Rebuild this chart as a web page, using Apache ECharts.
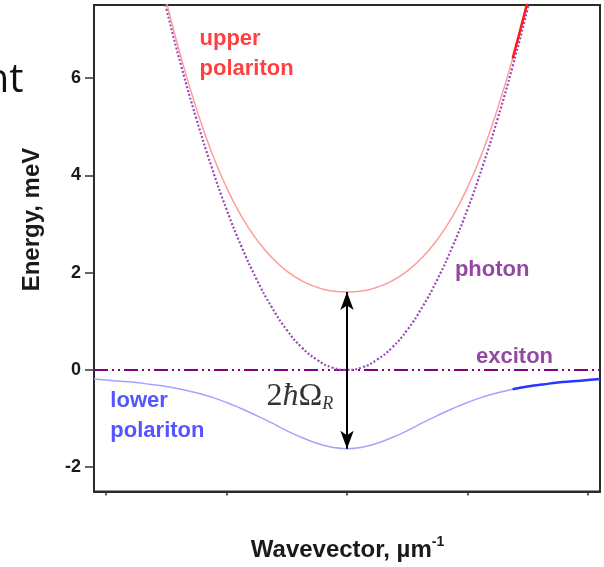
<!DOCTYPE html>
<html>
<head>
<meta charset="utf-8">
<title>Exciton-polariton dispersion</title>
<script src="https://cdn.jsdelivr.net/npm/echarts@6/dist/echarts.min.js"></script>
<style>
  html, body { margin: 0; padding: 0; background: #fff; }
  #chart { width: 604px; height: 567px; }
</style>
</head>
<body>
<div id="chart"></div>
<script>
// In-plane wavevector (µm^-1) and branch energies (meV)
const upperK = [-1.625, -1.5, -1.375, -1.25, -1.125, -1.0, -0.875, -0.75, -0.625, -0.5, -0.375, -0.25, -0.125, 0,
                0.125, 0.25, 0.375, 0.5, 0.625, 0.75, 0.875, 1.0, 1.125, 1.25, 1.375, 1.5, 1.625];
const upperE = [8.85, 7.58, 6.40, 5.37, 4.48, 3.75, 3.15, 2.68, 2.31, 2.03, 1.83, 1.70, 1.62, 1.60,
                1.62, 1.70, 1.83, 2.03, 2.31, 2.68, 3.15, 3.75, 4.48, 5.37, 6.40, 7.58, 8.85];

const photonK = [-1.625, -1.5, -1.375, -1.25, -1.125, -1.0, -0.875, -0.75, -0.625, -0.5, -0.375, -0.25, -0.125, 0,
                 0.125, 0.25, 0.375, 0.5, 0.625, 0.75, 0.875, 1.0, 1.125, 1.25, 1.375, 1.5, 1.625];
const photonE = [8.7, 7.43, 6.24, 5.16, 4.18, 3.30, 2.53, 1.86, 1.29, 0.82, 0.46, 0.21, 0.05, 0,
                 0.05, 0.21, 0.46, 0.82, 1.29, 1.86, 2.53, 3.30, 4.18, 5.16, 6.24, 7.43, 8.7];

const lowerK = [-2.1, -2.0, -1.875, -1.75, -1.625, -1.5, -1.375, -1.25, -1.125, -1.0, -0.875, -0.75, -0.625, -0.5, -0.375, -0.25, -0.125, 0,
                0.125, 0.25, 0.375, 0.5, 0.625, 0.75, 0.875, 1.0, 1.125, 1.25, 1.375, 1.5, 1.625, 1.75, 1.875, 2.0, 2.1];
const lowerE = [-0.19, -0.21, -0.235, -0.26, -0.30, -0.34, -0.40, -0.47, -0.56, -0.67, -0.80, -0.94, -1.09, -1.25, -1.39, -1.51, -1.59, -1.62,
                -1.59, -1.51, -1.39, -1.25, -1.09, -0.94, -0.80, -0.67, -0.56, -0.47, -0.40, -0.34, -0.30, -0.26, -0.235, -0.21, -0.19];

const excitonK = [-2.1, 2.1];
const excitonE = [0, 0];

// Wavevector from which the branches are drawn emphasised
const highlightFromK = 1.375;

const xTicks = [-2, -1, 0, 1, 2];
const yTicks = [-2, 0, 2, 4, 6];

const pairs = (ks, es) => ks.map((k, i) => [k, es[i]]);
const pairsFrom = (ks, es, k0) => pairs(ks, es).filter(p => p[0] >= k0);

const SANS = 'Liberation Sans, Arial, sans-serif';
const SERIF = 'Liberation Serif, Times New Roman, serif';

const chart = echarts.init(document.getElementById('chart'), null, { renderer: 'canvas' });

const textLabel = (k, e, style) => ({
  type: 'scatter',
  silent: true,
  symbolSize: 1,
  itemStyle: { color: 'rgba(0,0,0,0)' },
  data: [[k, e]],
  label: Object.assign({
    show: true,
    position: [0, 0],
    align: 'left',
    verticalAlign: 'top',
    fontFamily: SANS,
    fontWeight: 'bold',
    fontSize: 22,
    lineHeight: 30
  }, style),
  z: 5
});

const upperAtZero = upperE[upperK.indexOf(0)];
const lowerAtZero = lowerE[lowerK.indexOf(0)];

const curve = (name, data, lineStyle, z) => ({
  name, type: 'line', smooth: 0.5, showSymbol: false, symbol: 'none',
  data, lineStyle, z
});

chart.setOption({
  animation: false,
  backgroundColor: '#fff',
  grid: {
    left: 94, right: 4, top: 5, bottom: 75.5,
    show: true,
    borderColor: '#2a2a2a',
    borderWidth: 2,
    backgroundColor: 'transparent'
  },
  xAxis: {
    type: 'value',
    min: -2.1, max: 2.1,
    axisLine: { show: true, onZero: false, lineStyle: { color: '#2a2a2a', width: 2 } },
    axisTick: { show: true, customValues: xTicks, length: 4, lineStyle: { color: '#333', width: 1.5 } },
    axisLabel: { show: false },
    splitLine: { show: false }
  },
  yAxis: {
    type: 'value',
    min: -2.5, max: 7.5,
    axisLine: { show: true, onZero: false, lineStyle: { color: '#2a2a2a', width: 2 } },
    axisTick: { show: true, customValues: yTicks, length: 9, lineStyle: { color: '#333', width: 1.5 } },
    axisLabel: {
      show: true, customValues: yTicks, margin: 13,
      fontFamily: SANS, fontWeight: 'bold', fontSize: 18, color: '#1a1a1a'
    },
    splitLine: { show: false }
  },
  graphic: [
    {
      type: 'text', x: 23.5, y: 81,
      style: { text: 'nt', font: '40px "Open Sans"', fill: '#111', align: 'right', verticalAlign: 'middle' }
    },
    {
      type: 'text', x: 32.6, y: 219.5, rotation: Math.PI / 2,
      style: { text: 'Energy, meV', font: 'bold 24px "Liberation Sans"', fill: '#1a1a1a', align: 'center', verticalAlign: 'middle' }
    },
    {
      type: 'text', x: 347.5, y: 535,
      style: {
        text: '{a|Wavevector, µm}{s|-1}',
        align: 'center', verticalAlign: 'top',
        rich: {
          a: { fontFamily: SANS, fontWeight: 'bold', fontSize: 24, lineHeight: 30, fill: '#1a1a1a' },
          s: { fontFamily: SANS, fontWeight: 'bold', fontSize: 14, lineHeight: 14, verticalAlign: 'top', fill: '#1a1a1a' }
        }
      }
    }
  ],
  series: [
    {
      name: 'exciton', type: 'line', showSymbol: false, symbol: 'none',
      data: pairs(excitonK, excitonE),
      lineStyle: { color: '#800080', width: 2, type: [14, 4, 2, 4, 2, 4] },
      z: 2
    },
    curve('photon', pairs(photonK, photonE), { color: '#9a48b8', width: 2.2, type: [2, 2] }, 2),
    curve('upper polariton', pairs(upperK, upperE), { color: '#ff9c9c', width: 1.5 }, 3),
    curve('lower polariton', pairs(lowerK, lowerE), { color: '#a3a3ff', width: 1.5 }, 3),
    curve('upper polariton (emphasised)', pairsFrom(upperK, upperE, highlightFromK), { color: '#ff1a1a', width: 2.5 }, 4),
    curve('lower polariton (emphasised)', pairsFrom(lowerK, lowerE, highlightFromK), { color: '#2a35ff', width: 2.5 }, 4),
    {
      name: 'Rabi splitting', type: 'line', data: [], silent: true,
      markLine: {
        silent: true,
        symbol: ['arrow', 'arrow'],
        symbolSize: [10, 18],
        label: { show: false },
        lineStyle: { color: '#000', width: 2, type: 'solid' },
        emphasis: { disabled: true },
        data: [[{ coord: [0, upperAtZero] }, { coord: [0, lowerAtZero] }]]
      },
      z: 6
    },
    textLabel(-1.22, 7.11, { formatter: 'upper\npolariton', color: '#ff1010' }),
    textLabel(-1.96, -0.34, { formatter: 'lower\npolariton', color: '#2a2aff' }),
    textLabel(0.90, 2.35, { formatter: 'photon', color: '#7b1a8c' }),
    textLabel(1.075, 0.57, { formatter: 'exciton', color: '#7b1a8c' }),
    textLabel(-0.665, -0.20, {
      formatter: '{m|2}{h|ħ}{m|Ω}{r|R}',
      rich: {
        m: { fontFamily: SERIF, fontWeight: 'normal', fontSize: 32, lineHeight: 34, color: '#000' },
        h: { fontFamily: SERIF, fontWeight: 'normal', fontStyle: 'italic', fontSize: 32, lineHeight: 34, color: '#000' },
        r: { fontFamily: SERIF, fontWeight: 'normal', fontStyle: 'italic', fontSize: 18, lineHeight: 8, verticalAlign: 'bottom', color: '#000' }
      }
    })
  ]
});
</script>
</body>
</html>
